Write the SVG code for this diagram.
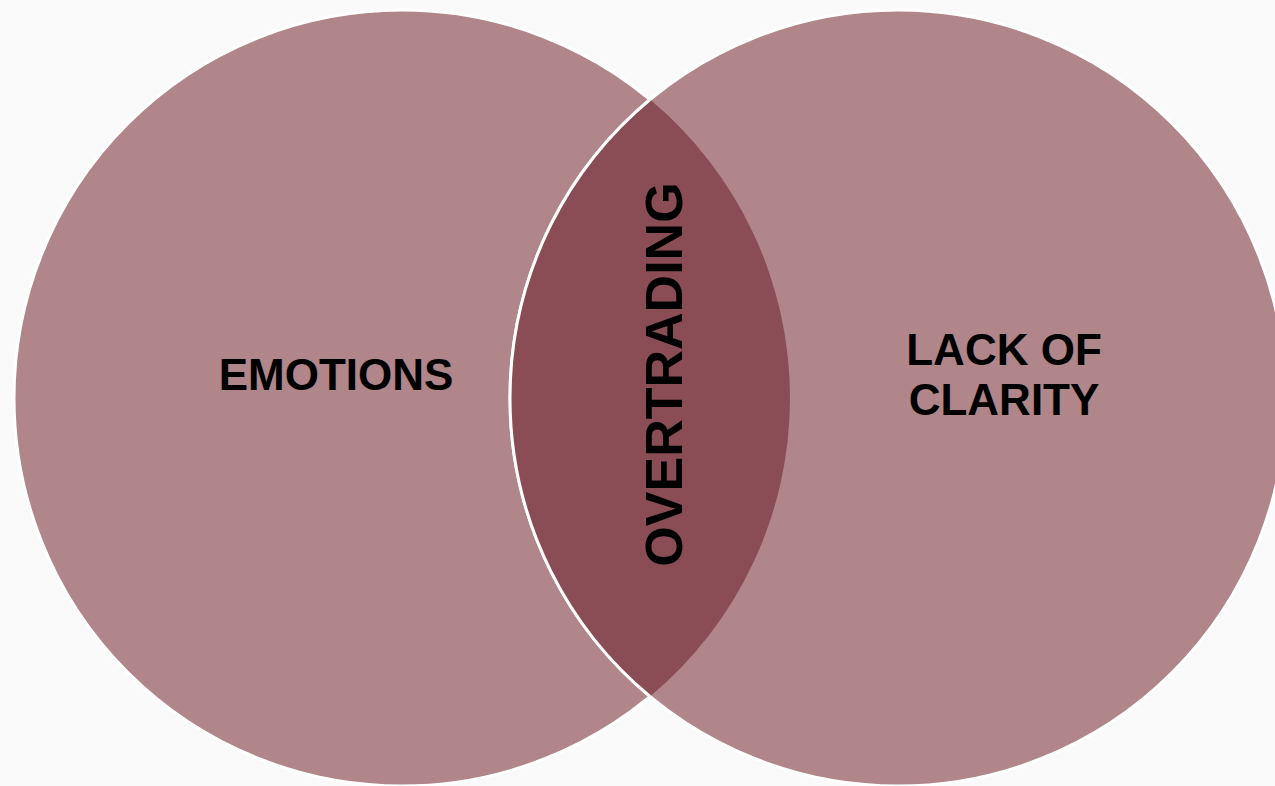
<svg xmlns="http://www.w3.org/2000/svg" width="1275" height="786" viewBox="0 0 1275 786">
  <style>
    .circle { fill: #B0868A; stroke: #FFFFFF; stroke-width: 3; }
    .lens { fill: #8B4D55; }
    .edge { fill: none; stroke: #FFFFFF; stroke-width: 3; }
    .label { font-family: "Liberation Sans", Arial, sans-serif; font-weight: bold; fill: #000000; }
  </style>
  <rect x="0" y="0" width="1275" height="786" fill="#FAFAFA"/>
  <g id="emotions">
    <circle class="circle" cx="402" cy="398" r="388"/>
  </g>
  <g id="lack-of-clarity">
    <circle class="circle" cx="898" cy="398" r="388"/>
  </g>
  <g id="overtrading">
    <path class="lens" d="M 650 99.6 A 388 388 0 0 1 650 696.4 A 388 388 0 0 1 650 99.6 Z"/>
    <path class="edge" d="M 650 696.4 A 388 388 0 0 1 650 99.6"/>
  </g>
  <g id="connectors"></g>
  <g id="labels">
    <text class="label" x="336" y="390" font-size="44" text-anchor="middle">EMOTIONS</text>
    <text class="label" font-size="44" text-anchor="middle"><tspan x="1004" y="365">LACK OF</tspan><tspan x="1004" y="415">CLARITY</tspan></text>
    <text class="label" x="0" y="0" font-size="52" text-anchor="middle" transform="translate(682 374.5) rotate(-90)">OVERTRADING</text>
  </g>
</svg>
